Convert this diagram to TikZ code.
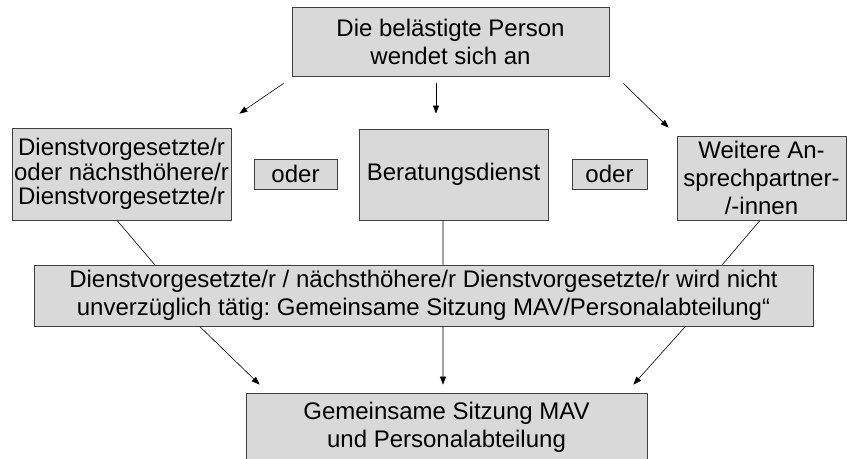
\documentclass[tikz,border=0pt]{standalone}
\usepackage{fontspec}
\setmainfont{Liberation Sans}
\usepackage{tikz}
\usetikzlibrary{arrows.meta}
\frenchspacing

\tikzset{
  box/.style={draw=black!75, fill=black!15, line width=0.8bp, inner sep=0pt,
    align=center, font=\fontsize{24bp}{28bp}\selectfont},
  arr/.style={-{Triangle[length=8bp,width=6bp]}, line width=0.6bp},
  lin/.style={line width=0.6bp}
}

\begin{document}
\begin{tikzpicture}[x=1bp,y=-1bp]
            \useasboundingbox (0,0) rectangle (847,459);

            \node[box, minimum width=317bp, minimum height=69bp] (person) at (450.5,41.5) {Die belästigte Person\\wendet sich an};

            \node[box, minimum width=219bp, minimum height=92bp, font=\fontsize{24bp}{24.5bp}\selectfont] (chef) at (121.5,174) {Dienstvorgesetzte/r\\oder nächsthöhere/r\\Dienstvorgesetzte/r};
            \node[box, minimum width=83bp, minimum height=30bp] (oder1) at (295.5,174) {oder};
            \node[box, minimum width=189bp, minimum height=91bp] (beratung) at (453.5,174.5) {Beratungsdienst};
            \node[box, minimum width=75bp, minimum height=30bp] (oder2) at (609.5,174) {oder};
            \node[box, minimum width=169bp, minimum height=84bp] (weitere) at (761.5,178) {Weitere An-\\sprechpartner-\\/-innen};

            \node[box, minimum width=779bp, minimum height=61bp] (untaetig) at (423.5,295.5) {Dienstvorgesetzte/r / nächsthöhere/r Dienstvorgesetzte/r wird nicht\\unverzüglich tätig: Gemeinsame Sitzung MAV/Personalabteilung“};

            \node[box, minimum width=401bp, minimum height=69bp] (sitzung) at (446.5,427.5) {Gemeinsame Sitzung MAV\\und Personalabteilung};

            % von oben
            \draw[arr] ([shift={(-8,7)}]person.south west) -- ([shift={(8,-14)}]chef.north east);
            \draw[arr] ([shift={(-14.5,7)}]person.south) -- ([shift={(-17.5,-15)}]beratung.north);
            \draw[arr] ([shift={(14,7)}]person.south east) -- ([shift={(-8,-8)}]weitere.north west);

            % zur Mitte
            \draw[lin] ([shift={(-4.5,0)}]chef.south) -- ([shift={(121,0)}]untaetig.north west);
            \draw[lin] ([shift={(-10.5,0)}]beratung.south) -- ([shift={(19.5,0)}]untaetig.north);
            \draw[lin] ([shift={(-1.5,0)}]weitere.south) -- ([shift={(-91,0)}]untaetig.north east);

            % nach unten
            \draw[arr] ([shift={(166,0)}]untaetig.south west) -- ([shift={(14,-8)}]sitzung.north west);
            \draw[arr] ([shift={(19.5,0)}]untaetig.south) -- ([shift={(-3.5,-8)}]sitzung.north);
            \draw[arr] ([shift={(-128,0)}]untaetig.south east) -- ([shift={(-14,-8)}]sitzung.north east);
         \end{tikzpicture}
\end{document}
